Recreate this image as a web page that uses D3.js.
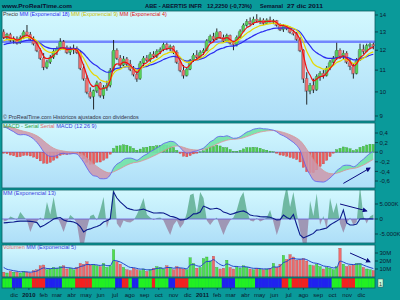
<!DOCTYPE html>
<html>
<head>
<meta charset="utf-8">
<script src="https://cdn.jsdelivr.net/npm/d3@7"></script>
<style>
  body { margin: 0; background: #0a9a9a; }
  text { font-family: "Liberation Sans", Arial, sans-serif; }
</style>
</head>
<body>
<div id="chart"></div>
<script>
// ---- weekly data, ABE - ABERTIS INFR, from week of 9 nov 2009 to 26 dic 2011 ----
const opens = [13.0,12.7,12.85,12.55,12.6,12.4,12.7,13.0,12.85,12.6,12.35,12.0,11.6,11.15,11.4,11.65,11.95,12.1,12.45,12.15,
  11.9,12.05,12.1,11.9,11.1,10.6,10.0,9.8,10.05,10.4,9.85,10.2,10.3,11.0,12.0,11.6,11.25,11.55,11.3,11.05,
  10.8,10.6,11.35,11.6,11.5,11.8,11.7,11.95,12.05,12.3,12.1,12.2,11.9,11.4,11.0,10.75,11.05,11.5,11.75,11.65,
  11.9,12.0,12.5,12.75,12.6,13.0,12.7,12.5,12.8,12.4,12.3,12.7,13.05,13.4,13.6,13.5,13.75,13.65,13.7,13.5,
  13.7,13.6,13.65,13.4,13.15,13.35,13.2,13.0,12.9,12.6,12.0,10.6,10.05,10.3,10.1,10.7,10.85,10.75,11.1,11.4,
  11.6,12.0,11.7,11.85,11.4,11.2,10.85,11.5,12.05,11.95,12.25,12.3];
const highs = [13.15,12.95,12.95,12.75,12.75,12.8,13.1,13.4,13.0,12.75,12.45,12.1,11.85,11.5,11.75,12.05,12.2,12.65,12.55,12.25,
  12.2,12.3,12.2,12.0,11.3,10.75,10.2,10.1,10.5,10.45,10.3,10.5,11.1,12.55,12.1,11.75,11.7,11.65,11.5,11.2,
  10.95,11.45,11.7,11.75,11.9,11.95,12.05,12.15,12.4,12.4,12.3,12.25,12.0,11.5,11.25,11.15,11.55,11.85,12.0,12.0,
  12.1,12.6,12.85,12.95,13.2,13.05,12.85,12.9,12.85,12.5,12.8,13.15,13.5,13.75,13.85,13.9,14.05,13.85,13.8,13.8,
  13.9,13.75,13.7,13.5,13.45,13.4,13.3,13.1,13.0,12.7,12.05,10.9,10.4,10.6,10.8,10.95,11.0,11.2,11.5,11.7,
  12.4,12.1,12.0,11.95,11.6,11.35,11.6,12.35,12.3,12.35,12.4,12.4];
const lows = [12.6,12.55,12.45,12.35,12.3,12.35,12.6,12.8,12.5,12.25,11.9,11.5,11.0,11.05,11.3,11.55,11.75,12.0,12.05,11.8,
  11.75,11.8,11.8,11.0,10.5,9.9,9.7,9.26,9.95,9.75,9.7,10.05,10.2,10.95,11.5,11.1,11.2,11.15,10.95,10.7,
  10.45,10.55,11.2,11.4,11.4,11.6,11.6,11.8,11.95,12.0,11.95,11.8,11.3,10.9,10.6,10.7,11.0,11.4,11.55,11.55,
  11.75,11.95,12.4,12.5,12.55,12.6,12.4,12.45,12.3,12.0,12.2,12.65,13.0,13.3,13.35,13.4,13.55,13.45,13.4,13.45,
  13.55,13.45,13.3,13.05,13.0,13.1,12.9,12.8,12.5,11.9,10.4,9.46,9.9,9.95,10.05,10.5,10.6,10.7,11.0,11.2,
  11.5,11.55,11.55,11.3,11.0,10.6,10.8,11.45,11.8,11.9,12.05,12.05];
const closes = [12.7,12.85,12.55,12.6,12.4,12.7,13.0,12.85,12.6,12.35,12.0,11.6,11.15,11.4,11.65,11.95,12.1,12.45,12.15,11.9,
  12.05,12.1,11.9,11.1,10.6,10.0,9.8,10.05,10.4,9.85,10.2,10.3,11.0,12.0,11.6,11.25,11.55,11.3,11.05,10.8,
  10.6,11.35,11.6,11.5,11.8,11.7,11.95,12.05,12.3,12.1,12.2,11.9,11.4,11.0,10.75,11.05,11.5,11.75,11.65,11.9,
  12.0,12.5,12.75,12.6,13.0,12.7,12.5,12.8,12.4,12.3,12.7,13.05,13.4,13.6,13.5,13.75,13.65,13.7,13.5,13.7,
  13.6,13.65,13.4,13.15,13.35,13.2,13.0,12.9,12.6,12.0,10.6,10.05,10.3,10.1,10.7,10.85,10.75,11.1,11.4,11.6,
  12.0,11.7,11.85,11.4,11.2,10.85,11.5,12.05,11.95,12.25,12.315,12.225];
// volume, millions
const volumes = [6,5,7,6,6,5,7,6,5,8,9,14,15,9,10,12,11,13,14,10,
  11,9,12,17,16,19,15,16,14,13,17,12,14,34,19,16,12,9,8,11,
  9,8,10,7,9,11,13,12,10,14,12,9,13,11,10,9,24,17,11,12,
  23,25,20,26,12,10,11,21,12,10,13,11,14,12,10,9,11,10,9,10,
  11,17,12,16,27,22,28,25,21,22,23,20,15,14,16,13,10,12,11,9,
  13,36,16,13,14,15,17,17,12,10,9,8];
// third panel, thousands: area series and MM (Exponencial 13) line
const oscArea = [-800,-500,800,300,-300,2300,800,-500,-4300,-1500,-800,500,-600,5700,1500,7300,1000,-1500,-4300,-1000,
  1300,300,-1500,-8500,-9000,-3000,1000,1500,-500,3000,7300,-3000,1000,12000,-1500,-3000,-500,-1000,-1200,-500,
  1500,4000,7000,1500,500,-300,300,500,-500,-3000,-5300,-2000,-500,-3000,-1500,2000,8000,8500,2000,9000,
  7000,-500,-2000,-500,500,-2500,-5300,-2500,-500,500,3000,7000,9000,3000,-500,-800,300,-800,-300,500,
  3000,-1000,-5300,-2000,6000,11000,4000,9000,2000,-4000,-9000,-8000,6000,1000,8500,-2000,1000,-3500,7000,2000,
  5500,-1500,-4600,-1500,500,-2000,-1000,11000,1000,-1500,800,1500];
const oscLine = [-1300,-1200,-1100,-1000,-800,-700,-700,-700,-800,-900,-1200,-2700,-2200,-1500,-800,0,300,500,-300,-700,
  -800,-1000,-1500,-2500,-4300,-3600,-3300,-2800,-2500,-2000,-1000,-600,0,9000,7000,5700,4700,3700,3300,3000,
  2900,3100,3300,2800,2400,2000,2000,2100,2000,1500,900,700,300,-300,-200,0,800,1700,1800,2300,
  4300,3800,3300,3400,3600,3200,2300,2000,1500,1800,2200,2500,2700,2200,1300,1100,1000,800,700,700,
  600,200,-300,-200,1300,500,0,1500,-2000,-5300,-6300,-5800,-5300,-4800,-3700,-3600,-3300,-3000,-2000,-1300,
  -700,0,3000,-1300,-2000,-2000,-1700,0,100,0,100,0];
// bottom trend strip: g = green, r = red, b = blue, one letter per week
const trendCodes = "gggbbbgggrrrrbbbbbggggrrrrrgg" + "gggggbbrrgbbggggrggggbbrrrr" +
  "ggggggggggbbbbggggggbbbbbbbbrrg" + "rrrrrbbbbbbbgggrrrrgggggg";
// starting values of the averages at the first week
const emaSeeds = {e18: 12.25, e9: 12.45, e4: 12.62, e12: 12.55, e26: 12.0, sig: 0.55, vol5: 15};

const priceTicks = [9, 10, 11, 12, 13, 14];
const macdTicks = [0.4, 0.2, 0, -0.2, -0.4, -0.6];
const oscTicks = [5000, 0, -5000];
const volTicks = [10, 20, 30];
const refLevel = 12.45;
const monthNames = ["ene","feb","mar","abr","may","jun","jul","ago","sep","oct","nov","dic"];

// hand-drawn arrows, in data coordinates [week index, value]
const arrowMacd = [[102, -0.65], [110, -0.33]];
const arrowOsc = [[101, 5000], [109, 2700]];
const arrowVol = [[104, 30], [110, 19]];

// ---- helpers ----
function ema(values, period, seed) {
  const k = 2 / (period + 1);
  let prev = seed;
  return values.map(v => (prev = prev + k * (v - prev)));
}

const W = 400, H = 300;
const n = closes.length;
const start = new Date(2009, 10, 9);
const dates = d3.range(n).map(i => d3.timeWeek.offset(start, i));
const DAY = 864e5;

const x = d3.scaleTime()
  .domain([new Date(+dates[0] - 3.5 * DAY), new Date(+dates[n - 1] + 3.5 * DAY)])
  .range([2, 375]);
const xi = i => x(dates[i]);

const panels = {
  price: {top: 11, bottom: 121},
  macd: {top: 123, bottom: 188},
  osc: {top: 190, bottom: 243},
  vol: {top: 245, bottom: 277},
  strip: {top: 278, bottom: 288}
};

const yPrice = d3.scaleLog().domain([9, 14]).range([116, 15]);
const yMacd = d3.scaleLinear().domain([-0.6, 0.4]).range([181, 133]);
const yOsc = d3.scaleLinear().domain([-5000, 5000]).range([234, 204]);
const yVol = d3.scaleLinear().domain([0, 30]).range([277, 253]);

const svg = d3.select("#chart").append("svg")
  .attr("width", W).attr("height", H);

const defs = svg.append("defs");
const grad = defs.append("linearGradient").attr("id", "bg").attr("x1", 0).attr("y1", 0).attr("x2", 0).attr("y2", 1);
grad.append("stop").attr("offset", "0%").attr("stop-color", "#d2f8fe");
grad.append("stop").attr("offset", "100%").attr("stop-color", "#aedef8");
defs.append("marker").attr("id", "arrowhead").attr("viewBox", "0 0 10 10")
  .attr("refX", 8).attr("refY", 5).attr("markerWidth", 5).attr("markerHeight", 5).attr("orient", "auto")
  .append("path").attr("d", "M0,0 L10,5 L0,10 z").attr("fill", "#0a0a80");

// panel backgrounds and clip paths
Object.entries(panels).forEach(([key, p]) => {
  if (key !== "strip") {
    svg.append("rect").attr("x", 2).attr("y", p.top).attr("width", 373).attr("height", p.bottom - p.top)
      .attr("fill", "url(#bg)");
  }
  defs.append("clipPath").attr("id", "clip-" + key)
    .append("rect").attr("x", 2).attr("y", p.top).attr("width", 373).attr("height", p.bottom - p.top);
});

// ---- header ----
const header = svg.append("g").attr("font-weight", "bold").attr("font-size", 6).attr("fill", "#0b1030");
[["www.ProRealTime.com", 2, 70], ["ABE - ABERTIS INFR", 145, 57], ["12,2250 (-0,73%)", 207, 45],
 ["Semanal", 260, 23], ["27 dic 2011", 287, 36]].forEach(([t, x0, w]) => {
  header.append("text").attr("x", x0).attr("y", 8)
    .attr("textLength", w).attr("lengthAdjust", "spacingAndGlyphs").text(t);
});

// ---- price panel ----
const gPrice = svg.append("g").attr("clip-path", "url(#clip-price)");

gPrice.append("line")
  .attr("x1", 2).attr("x2", 375).attr("y1", yPrice(refLevel)).attr("y2", yPrice(refLevel))
  .attr("stroke", "#6a7cff").attr("stroke-width", 2.6).attr("opacity", 0.9);

const candles = gPrice.selectAll(".candle").data(d3.range(n)).enter().append("g").attr("class", "candle");
candles.append("rect")
  .attr("x", i => xi(i) - 2.3)
  .attr("y", i => yPrice(Math.max(opens[i], closes[i])) + 1)
  .attr("width", 2.6)
  .attr("height", i => Math.max(1, Math.abs(yPrice(opens[i]) - yPrice(closes[i]))))
  .attr("fill", "#7d8d9a").attr("opacity", 0.8);
candles.append("line")
  .attr("x1", i => xi(i)).attr("x2", i => xi(i))
  .attr("y1", i => yPrice(highs[i])).attr("y2", i => yPrice(lows[i]))
  .attr("stroke", "#111").attr("stroke-width", 0.9);
candles.append("rect")
  .attr("x", i => xi(i) - 1.3)
  .attr("y", i => yPrice(Math.max(opens[i], closes[i])))
  .attr("width", 2.6)
  .attr("height", i => Math.max(1, Math.abs(yPrice(opens[i]) - yPrice(closes[i]))))
  .attr("fill", i => closes[i] >= opens[i] ? "#58d058" : "#ee7070")
  .attr("stroke", i => closes[i] >= opens[i] ? "#2a8a2a" : "#a84040")
  .attr("stroke-width", 0.3);

const e18 = ema(closes, 18, emaSeeds.e18);
const e9 = ema(closes, 9, emaSeeds.e9);
const e4 = ema(closes, 4, emaSeeds.e4);
const priceLine = d3.line().x((d, i) => xi(i)).y(d => yPrice(d)).curve(d3.curveMonotoneX);
[[e18, "#2b2bf0"], [e9, "#e6d800"], [e4, "#f01010"]].forEach(([series, color]) => {
  gPrice.append("path").attr("d", priceLine(series)).attr("fill", "none")
    .attr("stroke", color).attr("stroke-width", 1.2);
});

// legend
const legPrice = svg.append("text").attr("x", 3).attr("y", 16).attr("font-size", 5.3);
legPrice.append("tspan").attr("fill", "#333").text("Precio ");
legPrice.append("tspan").attr("fill", "#2b2bf0").text("MM (Exponencial 18) ");
legPrice.append("tspan").attr("fill", "#c8c000").text("MM (Exponencial 9) ");
legPrice.append("tspan").attr("fill", "#e01010").text("MM (Exponencial 4)");

svg.append("text").attr("x", 3).attr("y", 119).attr("font-size", 5.4).attr("fill", "#334")
  .text("© ProRealTime.com  Históricos ajustados con dividendos");

// ---- MACD panel ----
const e12 = ema(closes, 12, emaSeeds.e12);
const e26 = ema(closes, 26, emaSeeds.e26);
const macd = e12.map((v, i) => v - e26[i]);
const signal = ema(macd, 9, emaSeeds.sig);
const hist = macd.map((v, i) => v - signal[i]);

const gMacd = svg.append("g").attr("clip-path", "url(#clip-macd)");
gMacd.append("line").attr("x1", 2).attr("x2", 375).attr("y1", yMacd(0)).attr("y2", yMacd(0))
  .attr("stroke", "#6a5ad8").attr("stroke-width", 0.8);

gMacd.selectAll(".hist").data(hist).enter().append("rect")
  .attr("x", (d, i) => xi(i) - 1.1)
  .attr("y", d => Math.min(yMacd(0), yMacd(d)))
  .attr("width", 2.2)
  .attr("height", d => Math.abs(yMacd(d) - yMacd(0)))
  .attr("fill", d => d >= 0 ? "#4ccc4c" : "#f05a5a")
  .attr("stroke", d => d >= 0 ? "#2c8c2c" : "#b03a3a").attr("stroke-width", 0.3);

// cloud between MACD and signal: green where MACD above, pink where below
const aboveSig = d3.area().x((d, i) => xi(i)).y0(panels.macd.top).y1(d => yMacd(d)).curve(d3.curveMonotoneX);
const belowSig = d3.area().x((d, i) => xi(i)).y0(panels.macd.bottom).y1(d => yMacd(d)).curve(d3.curveMonotoneX);
defs.append("clipPath").attr("id", "clip-above").append("path").attr("d", aboveSig(signal));
defs.append("clipPath").attr("id", "clip-below").append("path").attr("d", belowSig(signal));
const band = d3.area().x((d, i) => xi(i)).y0((d, i) => yMacd(signal[i])).y1(d => yMacd(d)).curve(d3.curveMonotoneX);
gMacd.append("path").attr("d", band(macd)).attr("clip-path", "url(#clip-above)")
  .attr("fill", "#72e2a6").attr("opacity", 0.9);
gMacd.append("path").attr("d", band(macd)).attr("clip-path", "url(#clip-below)")
  .attr("fill", "#cc98ac").attr("opacity", 0.85);
const macdLine = d3.line().x((d, i) => xi(i)).y(d => yMacd(d)).curve(d3.curveMonotoneX);
gMacd.append("path").attr("d", macdLine(signal)).attr("fill", "none").attr("stroke", "#e08a8a").attr("stroke-width", 0.7);
gMacd.append("path").attr("d", macdLine(macd)).attr("fill", "none").attr("stroke", "#5a5af0").attr("stroke-width", 0.8);

const legMacd = svg.append("text").attr("x", 3).attr("y", 128).attr("font-size", 5.6);
legMacd.append("tspan").attr("fill", "#2aa040").text("MACD - Serial ");
legMacd.append("tspan").attr("fill", "#e06a6a").text("Serial ");
legMacd.append("tspan").attr("fill", "#3a3ae0").text("MACD (12 26 9)");

// ---- third panel ----
const gOsc = svg.append("g").attr("clip-path", "url(#clip-osc)");
defs.append("clipPath").attr("id", "clip-osc-pos").append("rect")
  .attr("x", 2).attr("y", panels.osc.top).attr("width", 373).attr("height", yOsc(0) - panels.osc.top);
defs.append("clipPath").attr("id", "clip-osc-neg").append("rect")
  .attr("x", 2).attr("y", yOsc(0)).attr("width", 373).attr("height", panels.osc.bottom - yOsc(0));
const oscAreaGen = d3.area().x((d, i) => xi(i)).y0(yOsc(0)).y1(d => yOsc(d));
gOsc.append("g").attr("clip-path", "url(#clip-osc-pos)")
  .append("path").attr("d", oscAreaGen(oscArea)).attr("fill", "#5fae92").attr("opacity", 0.85);
gOsc.append("g").attr("clip-path", "url(#clip-osc-neg)")
  .append("path").attr("d", oscAreaGen(oscArea)).attr("fill", "#9a88a8").attr("opacity", 0.85);
gOsc.append("line").attr("x1", 2).attr("x2", 375).attr("y1", yOsc(0)).attr("y2", yOsc(0))
  .attr("stroke", "#6a5ad8").attr("stroke-width", 0.8);
gOsc.append("path")
  .attr("d", d3.line().x((d, i) => xi(i)).y(d => yOsc(d))(oscLine))
  .attr("fill", "none").attr("stroke", "#0c1c8c").attr("stroke-width", 1.1);

svg.append("text").attr("x", 3).attr("y", 195).attr("font-size", 5.6).attr("fill", "#3a3ae0")
  .text("MM (Exponencial 13)");

// ---- volume panel ----
const gVol = svg.append("g").attr("clip-path", "url(#clip-vol)");
gVol.selectAll(".vol").data(volumes).enter().append("rect")
  .attr("x", (d, i) => xi(i) - 1.2)
  .attr("y", d => yVol(d))
  .attr("width", 2.4)
  .attr("height", d => yVol(0) - yVol(d))
  .attr("fill", (d, i) => closes[i] >= opens[i] ? "#4ee04e" : "#f06a6a")
  .attr("stroke", (d, i) => closes[i] >= opens[i] ? "#2a902a" : "#a84444").attr("stroke-width", 0.3);
const vol5 = ema(volumes, 5, emaSeeds.vol5);
gVol.append("path")
  .attr("d", d3.line().x((d, i) => xi(i)).y(d => yVol(d)).curve(d3.curveMonotoneX)(vol5))
  .attr("fill", "none").attr("stroke", "#2444cc").attr("stroke-width", 1);

const legVol = svg.append("text").attr("x", 3).attr("y", 248.5).attr("font-size", 5.6);
legVol.append("tspan").attr("fill", "#e06a6a").text("Volumen ");
legVol.append("tspan").attr("fill", "#3a3ae0").text("MM (Exponencial 5)");

// ---- trend strip ----
const stripColors = {g: "#22f022", r: "#f42020", b: "#2020f0"};
const gStrip = svg.append("g").attr("clip-path", "url(#clip-strip)");
gStrip.selectAll(".seg").data(trendCodes.split("")).enter().append("rect")
  .attr("x", (d, i) => xi(i) - 1.7)
  .attr("y", panels.strip.top)
  .attr("width", 3.5)
  .attr("height", panels.strip.bottom - panels.strip.top)
  .attr("fill", d => stripColors[d]);
svg.append("rect").attr("x", 378).attr("y", 279).attr("width", 5).attr("height", 8)
  .attr("fill", "#c8ffd8").attr("stroke", "#555").attr("stroke-width", 0.5);
svg.append("text").attr("x", 380.5).attr("y", 285.5).attr("font-size", 5.5).attr("text-anchor", "middle")
  .attr("fill", "#333").text("1");

// ---- frames ----
Object.values(panels).forEach(p => {
  svg.append("rect").attr("x", 2).attr("y", p.top).attr("width", 373).attr("height", p.bottom - p.top)
    .attr("fill", "none").attr("stroke", "#0a5e62").attr("stroke-width", 0.8);
});

// ---- arrows ----
[[arrowMacd, yMacd], [arrowOsc, yOsc], [arrowVol, yVol]].forEach(([pts, y]) => {
  svg.append("line")
    .attr("x1", xi(pts[0][0])).attr("y1", y(pts[0][1]))
    .attr("x2", xi(pts[1][0])).attr("y2", y(pts[1][1]))
    .attr("stroke", "#0a0a80").attr("stroke-width", 1)
    .attr("marker-end", "url(#arrowhead)");
});

// ---- right axes ----
function rightAxis(scale, ticks, fmt) {
  const g = svg.append("g").attr("transform", "translate(375,0)");
  ticks.forEach(t => {
    g.append("line").attr("x1", 0).attr("x2", 3).attr("y1", scale(t)).attr("y2", scale(t))
      .attr("stroke", "#0b2030").attr("stroke-width", 0.7);
    g.append("text").attr("x", 4.5).attr("y", scale(t)).attr("dy", "0.35em")
      .attr("font-size", 6).attr("fill", "#0b1a30").text(fmt(t));
  });
}
rightAxis(yPrice, priceTicks, d => d);
rightAxis(yMacd, macdTicks, d => d === 0 ? "0" : d.toFixed(1).replace(".", ","));
rightAxis(yOsc, oscTicks, d => d === 0 ? "0" : (d < 0 ? "-" : "") + "5.000K");
rightAxis(yVol, volTicks, d => d + "M");

// ---- bottom time axis ----
const months = d3.timeMonth.range(x.domain()[0], x.domain()[1]);
const gx = svg.append("g");
months.forEach(m => {
  const xm = x(m);
  const isYear = m.getMonth() === 0;
  gx.append("line").attr("x1", xm).attr("x2", xm).attr("y1", 288).attr("y2", 290)
    .attr("stroke", "#0b2030").attr("stroke-width", 0.6);
  gx.append("text").attr("x", xm).attr("y", 296.5).attr("text-anchor", "middle")
    .attr("font-size", 6).attr("font-weight", isYear ? "bold" : "normal").attr("fill", "#0b1a30")
    .text(isYear ? m.getFullYear() : monthNames[m.getMonth()]);
});
</script>
</body>
</html>
